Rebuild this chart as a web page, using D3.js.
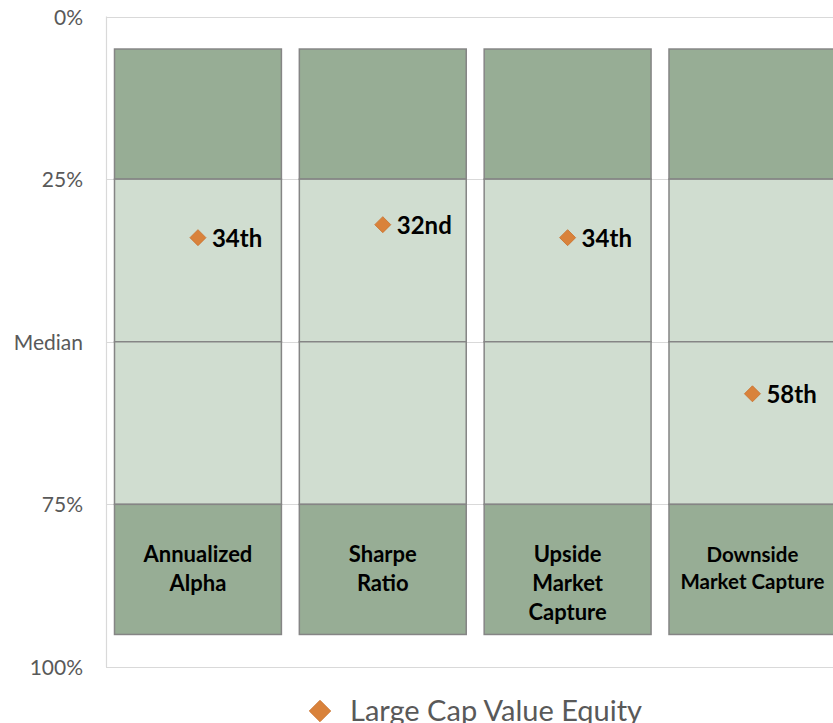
<!DOCTYPE html>
<html>
<head>
<meta http-equiv="Content-Type" content="text/html; charset=UTF-8">
<style>
body { margin: 0; background: #fff; }
text { font-family: Lato, "Open Sans", sans-serif; }
.tick text { fill: #595959; font-size: 21px; }
.cat { font-weight: bold; fill: #000; }
.pt-label { font-weight: bold; font-size: 24px; fill: #000; }
</style>
</head>
<body>
<svg width="833" height="723"></svg>
<script src="https://cdn.jsdelivr.net/npm/d3@7"></script>
<script>

var categories = ["Annualized Alpha", "Sharpe Ratio", "Upside Market Capture", "Downside Market Capture"];
var categoryLines = [["Annualized", "Alpha"], ["Sharpe", "Ratio"], ["Upside", "Market", "Capture"], ["Downside", "Market Capture"]];

// quartile bands of each bar (percentile rank)
var bandStart = [5, 25, 50, 75];
var bandEnd = [25, 50, 75, 95];
var bandShade = ["dark", "light", "light", "dark"];

var ranks = [34, 32, 34, 58];
var rankLabels = ["34th", "32nd", "34th", "58th"];

var yTicks = [0, 25, 50, 75, 100];
var yTickLabels = ["0%", "25%", "Median", "75%", "100%"];

var seriesName = "Large Cap Value Equity";

var colors = { dark: "#97ad95", light: "#d0ddd0" };
var orange = "#d9823b";

var svg = d3.select("svg");

var x = d3.scaleBand()
    .domain(categories)
    .range([106, 106 + 4 * 184.6])
    .paddingInner(0.097)
    .paddingOuter(0.046);

var y = d3.scaleLinear()
    .domain([0, 100])
    .range([16.5, 667]);

// grid lines
svg.append("g")
    .selectAll("line")
    .data(yTicks)
    .enter().append("line")
    .attr("x1", 106)
    .attr("x2", 833)
    .attr("y1", function(d) { return Math.round(y(d)) + 0.5; })
    .attr("y2", function(d) { return Math.round(y(d)) + 0.5; })
    .attr("stroke", "#d9d9d9")
    .attr("stroke-width", 1.2);

svg.append("line")
    .attr("x1", 106.5).attr("x2", 106.5)
    .attr("y1", y(0)).attr("y2", y(100))
    .attr("stroke", "#d9d9d9")
    .attr("stroke-width", 1.2);

// y axis labels
var yAxis = d3.axisLeft(y)
    .tickValues(yTicks)
    .tickFormat(function(d, i) { return yTickLabels[i]; })
    .tickSize(0)
    .tickPadding(23);

var ga = svg.append("g")
    .attr("transform", "translate(106,0)")
    .call(yAxis);
ga.select(".domain").remove();
ga.selectAll(".tick text").attr("font-family", null).attr("dy", "0.36em");

// stacked quartile bands
var bars = svg.append("g")
    .selectAll("g")
    .data(categories)
    .enter().append("g");

bars.selectAll("rect")
    .data(function(c) {
        return bandStart.map(function(s, i) { return { cat: c, s: s, e: bandEnd[i], shade: bandShade[i] }; });
    })
    .enter().append("rect")
    .attr("x", function(d) { return x(d.cat); })
    .attr("y", function(d) { return y(d.s); })
    .attr("width", x.bandwidth())
    .attr("height", function(d) { return y(d.e) - y(d.s); })
    .attr("fill", function(d) { return colors[d.shade]; })
    .attr("stroke", "#858585")
    .attr("stroke-width", 1.5);

// category names inside bottom band
categories.forEach(function(c, i) {
    var lines = categoryLines[i];
    var small = lines.length == 2 && lines[1].length > 10;
    var lh = small ? 26.5 : 29;
    var t = svg.append("text")
        .attr("class", "cat")
        .attr("text-anchor", "middle")
        .attr("font-size", small ? "20.5px" : "22px")
        .attr("x", x(c) + x.bandwidth() / 2)
        .attr("y", y(75) + 58);
    lines.forEach(function(l, j) {
        t.append("tspan")
            .attr("x", x(c) + x.bandwidth() / 2)
            .attr("dy", j == 0 ? 0 : lh)
            .text(l);
    });
});

// rank markers
var diamond = d3.symbol().type(d3.symbolSquare).size(128);

svg.append("g")
    .selectAll("path")
    .data(ranks)
    .enter().append("path")
    .attr("d", diamond)
    .attr("transform", function(d, i) {
        return "translate(" + (x(categories[i]) + x.bandwidth() / 2) + "," + y(d) + ") rotate(45)";
    })
    .attr("fill", orange)
    .attr("stroke", "#c9732f")
    .attr("stroke-width", 0.8);

svg.append("g")
    .selectAll("text")
    .data(ranks)
    .enter().append("text")
    .attr("class", "pt-label")
    .attr("x", function(d, i) { return x(categories[i]) + x.bandwidth() / 2 + 14; })
    .attr("y", function(d) { return y(d) + 9; })
    .text(function(d, i) { return rankLabels[i]; });

// legend
var lg = svg.append("g").attr("transform", "translate(320,711)");
lg.append("path")
    .attr("d", d3.symbol().type(d3.symbolSquare).size(230))
    .attr("transform", "rotate(45)")
    .attr("fill", orange)
    .attr("stroke", "#c9732f")
    .attr("stroke-width", 0.8);
lg.append("text")
    .attr("x", 30)
    .attr("y", 10)
    .attr("font-size", "29px")
    .attr("fill", "#595959")
    .text(seriesName);

</script>
</body></html>
